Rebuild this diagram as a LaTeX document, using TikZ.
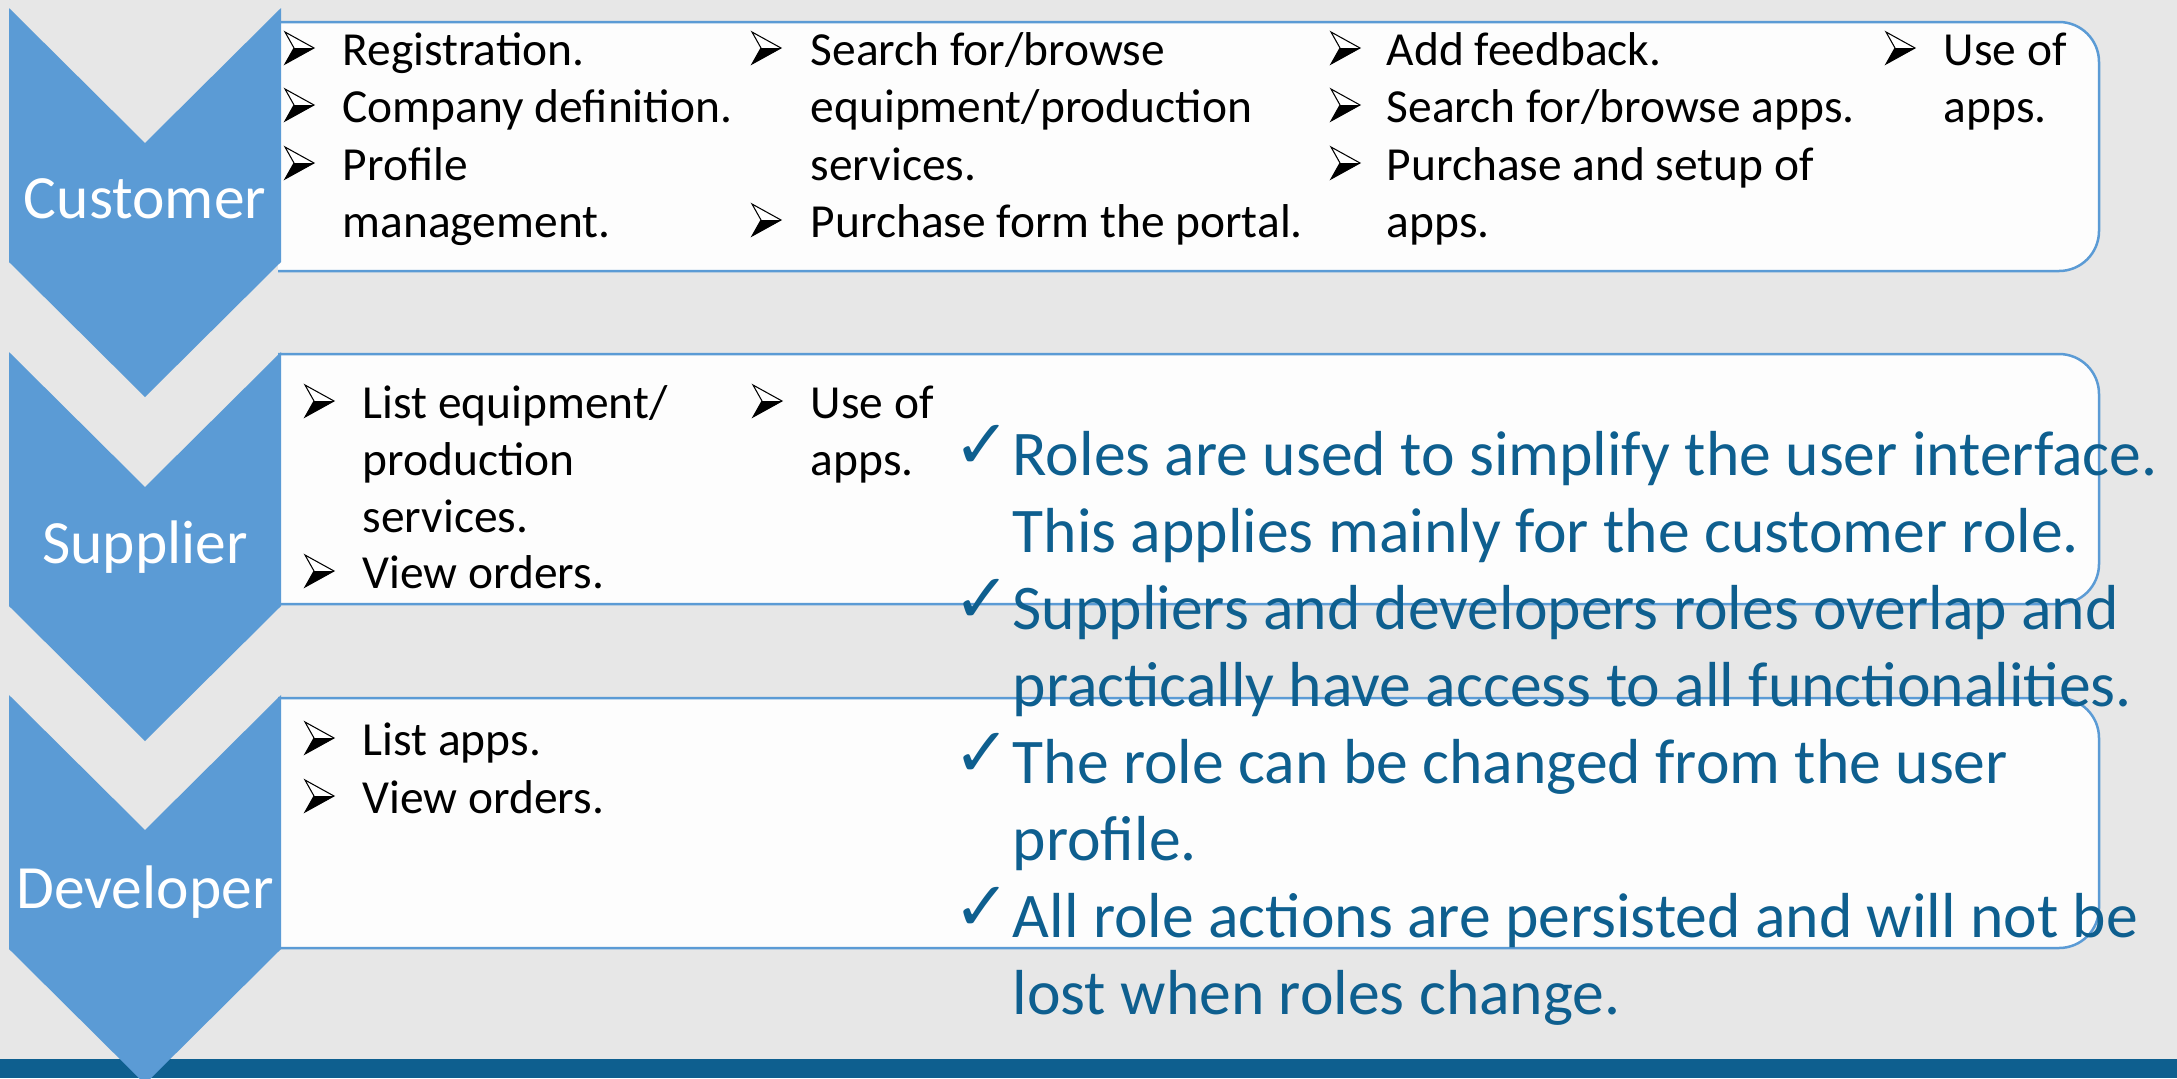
\documentclass[tikz,border=0pt]{standalone}
\usepackage{fontspec}
\setmainfont{Carlito}
\newfontfamily\symfnt{DejaVu Sans}
\definecolor{bgc}{HTML}{E7E7E7}
\definecolor{chev}{HTML}{5B9BD5}
\definecolor{boxfill}{HTML}{FDFDFD}
\definecolor{boxline}{HTML}{5B9BD5}
\definecolor{dblue}{HTML}{0E5F8F}
\tikzset{
  blk/.style={anchor=base west, inner sep=0pt, text=black, font=\fontsize{13.5}{16}\selectfont},
  blu/.style={anchor=base west, inner sep=0pt, text=dblue, font=\fontsize{18.1}{22}\selectfont},
  chk/.style={anchor=base west, inner sep=0pt, text=dblue, font=\symfnt\fontsize{19.5}{23}\selectfont},
  lbl/.style={anchor=base, inner sep=0pt, text=white, font=\fontsize{17.5}{21}\selectfont},
  rolebox/.style={fill=boxfill, draw=boxline, line width=0.25mm, rounded corners=4mm},
  bul/.pic={
    \fill[white] (0,-33) -- (29,-17) -- (9,-17) -- cycle;
    \fill[black] (9,-17) -- (29,-17) -- (0,-1) -- cycle;
    \draw[black, line width=0.3pt, line join=miter] (0,-33) -- (29,-17) -- (0,-1) -- (9,-17) -- cycle;
  }
}
\begin{document}
\begin{tikzpicture}[x=0.1mm, y=-0.1mm]
\useasboundingbox (0,0) rectangle (2177,1078);
\fill[bgc] (0,0) rectangle (2177,1078);
% bottom bar
\fill[dblue] (0,1059) rectangle (2177,1078);
% boxes
\path[rolebox] (278,22) -- (2099,22) -- (2099,271) -- (278,271);
\path[rolebox] (278,354) -- (2099,354) -- (2099,604) -- (278,604);
\path[rolebox] (278,698) -- (2099,698) -- (2099,948) -- (278,948);
% chevrons
\fill[chev] (9,8) -- (145,143) -- (281,8) -- (281,262) -- (145,397) -- (9,262) -- cycle;
\fill[chev] (9,352) -- (145,487) -- (281,352) -- (281,606) -- (145,741) -- (9,606) -- cycle;
\fill[chev] (9,695) -- (145,830) -- (281,695) -- (281,949) -- (145,1084) -- (9,949) -- cycle;
% labels
\node[lbl] (lcust) at (145,218) {Customer};
\node[lbl] (lsupp) at (145,563) {Supplier};
\node[lbl] (ldev) at (145,908) {Developer};
% customer column 1
\pic at (285,65) {bul};
\pic at (285,122) {bul};
\pic at (285,180) {bul};
\node[blk] (c1a) at (342,65) {Registration.};
\node[blk] (c1b) at (342,122) {Company definition.};
\node[blk] (c1c) at (342,180) {Profile};
\node[blk] (c1d) at (342,237) {management.};
% customer column 2
\pic at (752,65) {bul};
\pic at (752,237) {bul};
\node[blk] (c2a) at (810,65) {Search for/browse};
\node[blk] (c2b) at (810,122) {equipment/production};
\node[blk] (c2c) at (810,180) {services.};
\node[blk] (c2d) at (810,237) {Purchase form the portal.};
% customer column 3
\pic at (1331,65) {bul};
\pic at (1331,122) {bul};
\pic at (1331,180) {bul};
\node[blk] (c3a) at (1386,65) {Add feedback.};
\node[blk] (c3b) at (1386,122) {Search for/browse apps.};
\node[blk] (c3c) at (1386,180) {Purchase and setup of};
\node[blk] (c3d) at (1386,237) {apps.};
% customer column 4
\pic at (1886,65) {bul};
\node[blk] (c4a) at (1943,65) {Use of};
\node[blk] (c4b) at (1943,122) {apps.};
% supplier
\pic at (305,418) {bul};
\pic at (305,588) {bul};
\node[blk] (s1a) at (362,418) {List equipment/};
\node[blk] (s1b) at (362,475) {production};
\node[blk] (s1c) at (362,532) {services.};
\node[blk] (s1d) at (362,588) {View orders.};
\pic at (753,418) {bul};
\node[blk] (s2a) at (810,418) {Use of};
\node[blk] (s2b) at (810,475) {apps.};
% developer
\pic at (305,755) {bul};
\pic at (305,813) {bul};
\node[blk] (d1a) at (362,755) {List apps.};
\node[blk] (d1b) at (362,813) {View orders.};
% blue notes
\node[chk] (k1) at (953,468) {✓};
\node[chk] (k2) at (953,622) {✓};
\node[chk] (k3) at (953,776) {✓};
\node[chk] (k4) at (953,930) {✓};
\node[blu] (n1) at (1012,475) {Roles are used to simplify the user interface.};
\node[blu] (n2) at (1012,552) {This applies mainly for the customer role.};
\node[blu] (n3) at (1012,629) {Suppliers and developers roles overlap and};
\node[blu] (n4) at (1012,706) {practically have access to all functionalities.};
\node[blu] (n5) at (1012,783) {The role can be changed from the user};
\node[blu] (n6) at (1012,860) {profile.};
\node[blu] (n7) at (1012,937) {All role actions are persisted and will not be};
\node[blu] (n8) at (1012,1014) {lost when roles change.};
\end{tikzpicture}
\end{document}
